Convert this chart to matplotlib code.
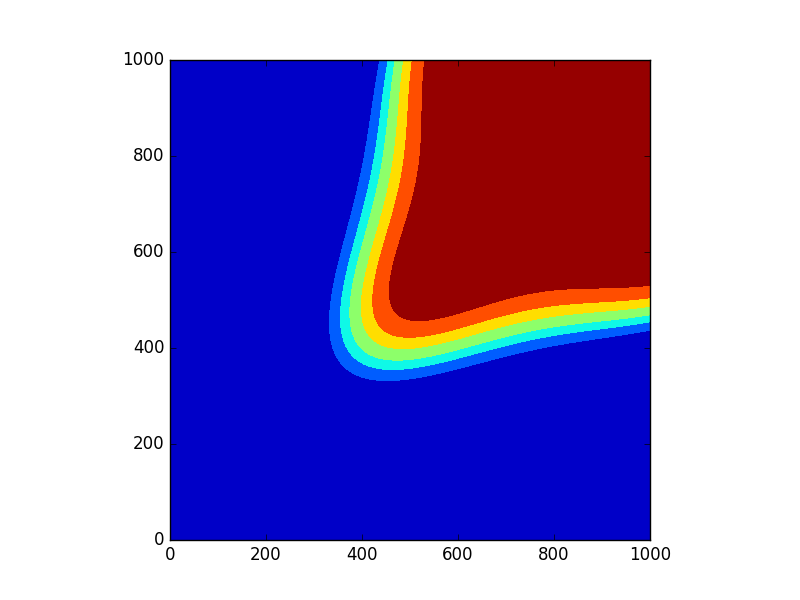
import numpy as np
import matplotlib
matplotlib.use('Agg')
import matplotlib.pyplot as plt

plt.style.use('classic')

# band boundaries where they cross the diagonal y = x (data units)
diag_levels = [362, 382, 399, 420, 441, 472]
# angular profile of the outer / inner boundary seen from the (1000, 1000) corner
profile_floor = [0.57, 0.60]
profile_width = [17.0, 12.5]   # degrees
# where each band sits in the jet colormap
band_pos = [0.066, 0.218, 0.370, 0.522, 0.674, 0.826, 0.978]

x = np.linspace(0, 1000, 1001)
y = np.linspace(0, 1000, 1001)
X, Y = np.meshgrid(x, y)

# polar coords around the top right corner, angle measured from the diagonal
r = np.hypot(1000 - X, 1000 - Y)
phi = np.degrees(np.arctan2(1000 - Y, 1000 - X)) - 45

# solve for the diagonal position of the boundary passing through each point
s0, s1 = diag_levels[0], diag_levels[-1]
s = np.full_like(r, 450.0)
for _ in range(15):
    t = np.clip((s - s0) / (s1 - s0), 0, 1)
    c0 = profile_floor[0] + t * (profile_floor[1] - profile_floor[0])
    w = profile_width[0] + t * (profile_width[1] - profile_width[0])
    prof = c0 + (1 - c0) / (1 + (phi / w) ** 2)
    s = 1000 - r / (np.sqrt(2) * prof)

levels = [s.min() - 1] + diag_levels + [s.max() + 1]
colors = plt.cm.jet(band_pos)

fig, ax = plt.subplots(figsize=(8, 6))
ax.contourf(X, Y, s, levels=levels, colors=colors)
ax.set_xlim(0, 1000)
ax.set_ylim(0, 1000)
ax.set_aspect('equal')
plt.savefig('out.png', dpi=100)
